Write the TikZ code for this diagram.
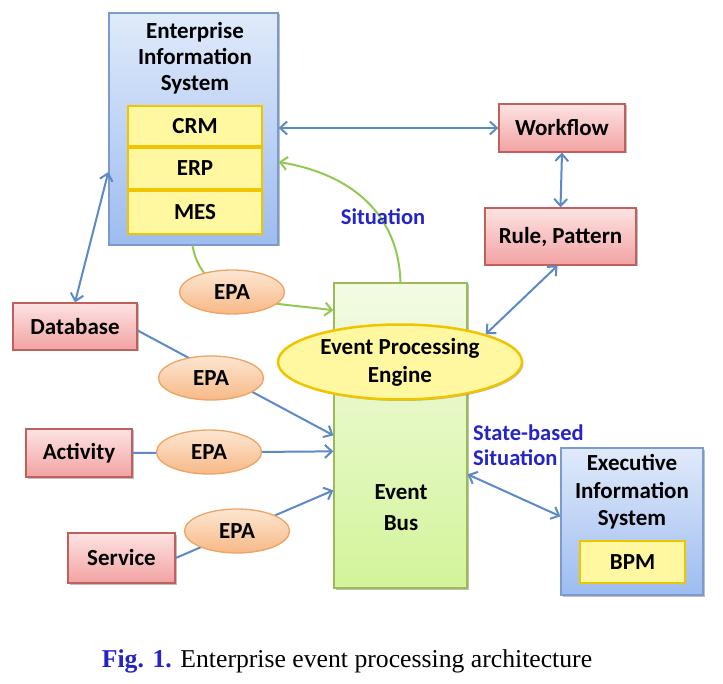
\documentclass[tikz,border=0pt]{standalone}
\usepackage{fontspec}
\setmainfont{Carlito}
\newfontfamily\capfont{Liberation Serif}
\usetikzlibrary{arrows.meta,shapes.geometric,shadows}
\definecolor{linkblue}{HTML}{5B8AC6}
\definecolor{linkgreen}{HTML}{92C955}
\definecolor{labblue}{HTML}{2424C8}
\definecolor{pinkdraw}{HTML}{C0605D}
\definecolor{pinktop}{HTML}{FDE3E3}
\definecolor{pinkbot}{HTML}{F2A2A2}
\definecolor{bluedraw}{HTML}{7A9BCB}
\definecolor{bluetop}{HTML}{E0EAFA}
\definecolor{bluebot}{HTML}{9DBCF0}
\definecolor{golddraw}{HTML}{F0C400}
\definecolor{yelfill}{HTML}{FFF8A0}
\definecolor{greendraw}{HTML}{9BBB59}
\definecolor{greentop}{HTML}{F3FBE4}
\definecolor{greenbot}{HTML}{D3F49A}
\definecolor{orangedraw}{HTML}{EDA465}
\definecolor{orangetop}{HTML}{FDE6D2}
\definecolor{orangebot}{HTML}{F7B987}
\tikzset{
  shad/.style={drop shadow={opacity=0.25,shadow xshift=1.5pt,shadow yshift=-1.5pt,fill=black}},
  pinkbox/.style={draw=pinkdraw,line width=1.3pt,top color=pinktop,bottom color=pinkbot,shad,
     font=\fontsize{23}{26}\selectfont\bfseries,inner sep=0pt},
  bluebox/.style={draw=bluedraw,line width=1.3pt,top color=bluetop,bottom color=bluebot,shad,inner sep=0pt},
  yelbox/.style={draw=golddraw,line width=2pt,fill=yelfill,inner sep=0pt,
     font=\fontsize{23}{26}\selectfont\bfseries},
  epa/.style={ellipse,draw=orangedraw,line width=1.3pt,top color=orangetop,bottom color=orangebot,
     minimum width=105pt,minimum height=44pt,inner sep=0pt,font=\fontsize{23}{26}\selectfont\bfseries},
  lbl/.style={font=\fontsize{23}{26}\selectfont\bfseries,align=center,inner sep=0pt},
  sitlbl/.style={font=\fontsize{22.5}{25}\selectfont\bfseries,text=labblue,inner sep=0pt,align=left},
  blink/.style={draw=linkblue,line width=2pt},
  glink/.style={draw=linkgreen,line width=2pt},
  tip/.style={-{Straight Barb[length=7pt,width=13pt,line width=2pt]}},
  ttip/.style={{Straight Barb[length=7pt,width=13pt,line width=2pt]}-{Straight Barb[length=7pt,width=13pt,line width=2pt]}}
}
\begin{document}
\begin{tikzpicture}[x=1pt,y=-1pt]
\useasboundingbox (0,0) rectangle (723,684);
% boxes
\node[bluebox,minimum width=169pt,minimum height=232pt] (eis) at (193.5,129) {};
\node[lbl] (eist) at (195,58) {Enterprise\\Information\\System};
\node[yelbox,minimum width=134pt,minimum height=40pt] (crm) at (195,126) {CRM};
\node[yelbox,minimum width=134pt,minimum height=41pt,anchor=north] (erp) at (crm.south) {ERP};
\node[yelbox,minimum width=134pt,minimum height=43pt,anchor=north] (mes) at (erp.south) {MES};

\node[pinkbox,minimum width=126pt,minimum height=48pt] (wf) at (562,128) {Workflow};
\node[pinkbox,minimum width=151pt,minimum height=57pt] (rule) at (560.5,236.5) {Rule, Pattern};
\node[pinkbox,minimum width=124pt,minimum height=47pt] (db) at (75,326.5) {Database};
\node[pinkbox,minimum width=106pt,minimum height=48pt] (act) at (79,453) {Activity};
\node[pinkbox,minimum width=107pt,minimum height=50pt] (svc) at (121.5,558) {Service};

\node[draw=greendraw,line width=1.3pt,top color=greentop,bottom color=greenbot,
  minimum width=133pt,minimum height=305pt,inner sep=0pt,shad] (bus) at (400.5,435.5) {};
\node[lbl,font=\fontsize{23}{31}\selectfont\bfseries] (bust) at (401,508) {Event\\Bus};

\node[bluebox,minimum width=142pt,minimum height=147pt] (exec) at (632,521.5) {};
\node[lbl,font=\fontsize{23}{27.5}\selectfont\bfseries] (exect) at (632,492) {Executive\\Information\\System};
\node[yelbox,minimum width=105pt,minimum height=42pt] (bpm) at (632.5,562) {BPM};

% connectors behind ellipses
\draw[blink,ttip] (eis.east |- wf.west) -- (wf.west);
\draw[blink,ttip] (wf.south) -- (rule.north);
\draw[blink,ttip] ([yshift=-43pt]eis.west) -- (db.north);
\draw[blink,tip] ([yshift=-4pt]db.east) -- ([yshift=-153pt]bus.north west);
\draw[blink,tip] (act.east) -- ([yshift=-169pt]bus.north west);
\draw[blink,tip] (svc.east) -- ([yshift=-208pt]bus.north west);
\draw[glink,tip] ([xshift=-1pt]eis.south) to[out=-80,in=172] ([yshift=-28pt]bus.north west);
\draw[glink,tip] (bus.north) .. controls (398,205) and (340,172) .. ([yshift=-33pt]eis.east);
\draw[blink,ttip] ([yshift=-192pt]bus.north east) -- ([yshift=-69pt]exec.north west);

% ellipses
\node[epa] (epa1) at (232,292) {EPA};
\node[epa] (epa2) at (211,378) {EPA};
\node[epa] (epa3) at (209,452) {EPA};
\node[epa] (epa4) at (237,531) {EPA};
\node[ellipse,draw=golddraw,line width=2.5pt,fill=yelfill,minimum width=244pt,minimum height=75pt,
  inner sep=0pt,shad,lbl,font=\fontsize{23}{28}\selectfont\bfseries] (epe) at (400,362) {Event Processing\\Engine};
\draw[blink,ttip] ([xshift=-3pt]rule.south) -- (epe.18);

% labels
\node[sitlbl] (sit) at (383,217) {Situation};
\node[sitlbl,anchor=west] (sbs) at (473,445.5) {State-based\\Situation};

\node[inner sep=0pt,font=\capfont\fontsize{25.7}{30}\selectfont] (cap) at (347,661)
  {\textcolor{labblue}{\bfseries Fig. 1.} Enterprise event processing architecture};
\end{tikzpicture}
\end{document}
